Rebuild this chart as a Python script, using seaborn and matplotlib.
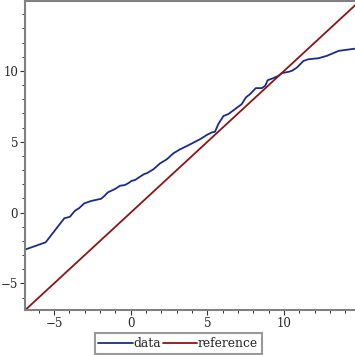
import numpy as np
import pandas as pd
import matplotlib
matplotlib.use('Agg')
import matplotlib.pyplot as plt
import seaborn as sns
from matplotlib.ticker import MultipleLocator

# values
data_x = [-6.9, -5.55, -4.34, -3.97, -3.64, -3.38, -3.03, -2.6, -1.94, -1.73,
          -1.5, -1.03, -0.7, -0.38, -0.12, 0.06, 0.27, 0.6, 0.88, 1.04,
          1.47, 1.91, 2.34, 2.78, 3.21, 3.65, 4.08, 4.51, 4.95, 5.27,
          5.49, 5.71, 6.04, 6.36, 6.8, 7.23, 7.5, 7.78, 8.15, 8.54,
          8.76, 8.93, 9.3, 9.63, 9.85, 10.28, 10.5, 10.83, 11.26, 11.59,
          12.24, 12.79, 13.55, 14.64]
data_y = [-2.62, -2.1, -0.41, -0.3, 0.13, 0.3, 0.65, 0.81, 0.97, 1.16,
          1.42, 1.66, 1.89, 1.94, 2.1, 2.24, 2.29, 2.53, 2.72, 2.77,
          3.05, 3.47, 3.75, 4.18, 4.46, 4.69, 4.93, 5.17, 5.47, 5.65,
          5.7, 6.25, 6.81, 6.95, 7.3, 7.65, 8.12, 8.36, 8.78, 8.78,
          8.94, 9.34, 9.49, 9.65, 9.84, 9.93, 10.0, 10.23, 10.7, 10.82,
          10.89, 11.06, 11.41, 11.57]
ref_x = [-6.9, 14.64]
ref_y = [-6.9, 14.64]

x_ticks = [-5, 0, 5, 10]
y_ticks = [-5, 0, 5, 10]

data_color = '#1a2b8e'
ref_color = '#8c1414'
axis_gray = '#808080'

sns.set_style('white')
plt.rcParams['font.family'] = ['DejaVu Serif']
plt.rcParams['font.size'] = 8.5

fig = plt.figure(figsize=(3.55, 3.55), dpi=100)
ax = fig.add_axes([25 / 355, (355 - 309.7) / 355, 1 - 25 / 355, (309.7 - 1) / 355])

df_data = pd.DataFrame({'x': data_x, 'y': data_y})
df_ref = pd.DataFrame({'x': ref_x, 'y': ref_y})
sns.lineplot(data=df_data, x='x', y='y', ax=ax, color=data_color, lw=1.3,
             sort=False, label='data', clip_on=False)
sns.lineplot(data=df_ref, x='x', y='y', ax=ax, color=ref_color, lw=1.3,
             sort=False, label='reference')

ax.set_xlim(-6.9, 14.62)
ax.set_ylim(-6.86, 14.93)
ax.set_xticks(x_ticks)
ax.set_yticks(y_ticks)
ax.xaxis.set_minor_locator(MultipleLocator(1))
ax.yaxis.set_minor_locator(MultipleLocator(1))
ax.set_xlabel('')
ax.set_ylabel('')

for side in ['top', 'left', 'bottom']:
    ax.spines[side].set_color(axis_gray)
    ax.spines[side].set_linewidth(1.5)
ax.spines['right'].set_visible(False)

ax.tick_params(which='major', direction='out', length=3.5, width=0.8,
               color='#333333', pad=1.5, labelsize=8.5, bottom=True, left=True)
ax.tick_params(which='minor', direction='out', length=2, width=0.7,
               color='#333333', bottom=True, left=True)

handles, labels = ax.get_legend_handles_labels()
ax.get_legend().remove()
leg = fig.legend(handles, labels, loc='center', bbox_to_anchor=(0.502, 0.032),
                 ncol=2, frameon=True, fancybox=False, fontsize=8.8,
                 handlelength=2.8, handletextpad=0.1, columnspacing=0.1,
                 borderpad=0.3, borderaxespad=0)
leg.get_frame().set_edgecolor(axis_gray)
leg.get_frame().set_linewidth(1.5)

fig.savefig('out.png', dpi=100)
